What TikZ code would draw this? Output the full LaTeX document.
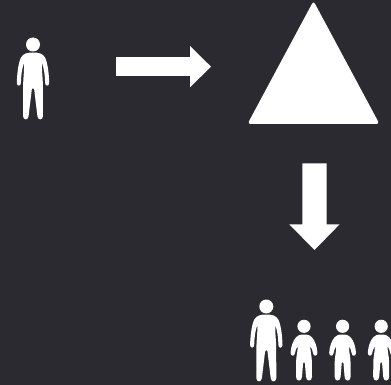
\documentclass[tikz,border=0pt]{standalone}
\definecolor{bgdark}{HTML}{2A2A30}
\tikzset{
  x=1pt,y=-1pt,
  shapefill/.style={fill=white,draw=none},
  adult/.pic={
    \fill[white] (0,0) circle (7);
    \path[shapefill] (0,8) .. controls (-6,8) and (-9.5,9) .. (-12,13)
      .. controls (-14.5,18) and (-15.9,28) .. (-16.2,38.5)
      .. controls (-16.3,42) and (-12.1,42) .. (-12.1,38.5)
      .. controls (-12,31) and (-11,24) .. (-9,18.5)
      .. controls (-8.6,26) and (-9.9,34) .. (-9.9,42)
      -- (-10,71.5) .. controls (-10,76) and (-4.6,76) .. (-4.4,71.5)
      -- (-1.2,45) .. controls (-0.9,43) and (0.9,43) .. (1.2,45)
      -- (4.4,71.5) .. controls (4.6,76) and (10,76) .. (10,71.5)
      -- (9.9,42) .. controls (9.9,34) and (8.6,26) .. (9,18.5)
      .. controls (11,24) and (12,31) .. (12.1,38.5)
      .. controls (12.1,42) and (16.3,42) .. (16.2,38.5)
      .. controls (15.9,28) and (14.5,18) .. (12,13)
      .. controls (9.5,9) and (6,8) .. (0,8) -- cycle;
  },
  child/.pic={
    \fill[white] (0,0) circle (6.6);
    \path[shapefill] (0,8.2) .. controls (-4,8.2) and (-6.5,9) .. (-8,11)
      .. controls (-11,14.5) and (-13,20) .. (-13.4,26.5)
      .. controls (-13.6,30) and (-9.4,30.5) .. (-9.1,27)
      .. controls (-8.8,25) and (-7.8,22) .. (-6.4,19.8)
      .. controls (-6.1,25) and (-7.9,30) .. (-7.9,35.5)
      -- (-8,50.5) .. controls (-7.9,55.5) and (-2.2,55.5) .. (-2,50.5)
      -- (-0.9,37) .. controls (-0.6,35.2) and (0.6,35.2) .. (0.9,37)
      -- (2,50.5) .. controls (2.2,55.5) and (7.9,55.5) .. (8,50.5)
      -- (7.9,35.5) .. controls (7.9,30) and (6.1,25) .. (6.4,19.8)
      .. controls (7.8,22) and (8.8,25) .. (9.1,27)
      .. controls (9.4,30.5) and (13.6,30) .. (13.4,26.5)
      .. controls (13,20) and (11,14.5) .. (8,11)
      .. controls (6.5,9) and (4,8.2) .. (0,8.2) -- cycle;
  }
}
\begin{document}
\begin{tikzpicture}
  \useasboundingbox (0,0) rectangle (391,385);
  \fill[bgdark] (0,0) rectangle (391,385);
  \pic at (33,44.5) {adult};
  \path[shapefill] (116,57.2) -- (190,57.2) -- (190,46) -- (211,66.7) -- (190,87.3) -- (190,76) -- (116,76) -- cycle;
  \path[shapefill,rounded corners=3pt] (313.5,1) -- (379.5,124) -- (247.5,124) -- cycle;
  \path[shapefill] (302.3,163.3) -- (326.7,163.3) -- (326.7,224.3) -- (339.6,224.3) -- (314.5,250) -- (289.3,224.3) -- (302.3,224.3) -- cycle;
  \pic at (266.3,306.5) {adult};
  \pic at (304,326.3) {child};
  \pic at (342.6,326.3) {child};
  \pic at (381.2,326.3) {child};
\end{tikzpicture}
\end{document}
